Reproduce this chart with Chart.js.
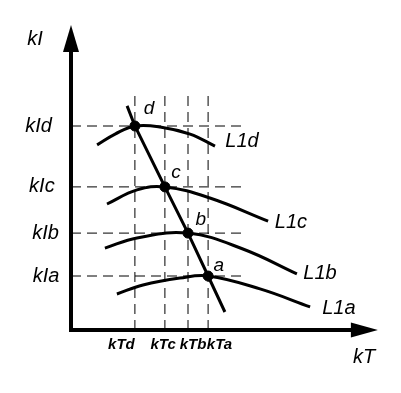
<!DOCTYPE html>
<html>
<head>
<meta charset="utf-8">
<script src="https://cdn.jsdelivr.net/npm/chart.js@4.4.1/dist/chart.umd.min.js"></script>
<style>
  html, body { margin: 0; padding: 0; background: #fff; }
</style>
</head>
<body>
<canvas id="chart" width="401" height="393"></canvas>
<script>
// operating points (kT, kI)
var pointNames = ['d', 'c', 'b', 'a'];
var kT = [21.3, 31.3, 39, 45.7];
var kI = [68, 47.7, 32.3, 18];

// steep line through the points, with its two loose ends
var lineT = [18.7, 21.3, 31.3, 39, 45.7, 51.3];
var lineI = [74.7, 68, 47.7, 32.3, 18, 6];

// L1 curves
var curveNames = ['L1d', 'L1c', 'L1b', 'L1a'];
var curveT = [
  [8.7, 14.7, 21.3, 29.7, 39.7, 48],
  [12, 22, 31.3, 46.3, 65.7],
  [11.3, 22, 39, 57.3, 75.3],
  [15.3, 24, 36.3, 45.7, 63, 79.7]
];
var curveI = [
  [61.7, 65.3, 68, 67.7, 65.3, 61.3],
  [42, 46.7, 47.7, 44, 36.3],
  [27.3, 30.7, 32.3, 27, 18.7],
  [12, 15, 17.3, 18, 13.7, 7.7]
];

var tickTLabels = ['kTd', 'kTc', 'kTb', 'kTa'];
var tickILabels = ['kId', 'kIc', 'kIb', 'kIa'];

var guideTopI = 80;
var guideEndT = 57.3;

var datasets = [];

// dashed guides
for (var i = 0; i < kT.length; i++) {
  datasets.push({
    data: [{x: kT[i], y: 0}, {x: kT[i], y: guideTopI}],
    borderColor: '#000', borderWidth: 1, borderDash: [10, 6],
    pointRadius: 0, showLine: true
  });
  datasets.push({
    data: [{x: 0, y: kI[i]}, {x: guideEndT, y: kI[i]}],
    borderColor: '#000', borderWidth: 1, borderDash: [10, 6],
    pointRadius: 0, showLine: true
  });
}

// curves
for (var c = 0; c < curveT.length; c++) {
  datasets.push({
    label: curveNames[c],
    data: curveT[c].map(function (t, j) { return {x: t, y: curveI[c][j]}; }),
    borderColor: '#000', borderWidth: 3, tension: 0.4,
    pointRadius: 0, showLine: true
  });
}

// steep line
datasets.push({
  data: lineT.map(function (t, j) { return {x: t, y: lineI[j]}; }),
  borderColor: '#000', borderWidth: 3, pointRadius: 0, showLine: true
});

// dots
datasets.push({
  data: kT.map(function (t, j) { return {x: t, y: kI[j]}; }),
  backgroundColor: '#000', borderColor: '#000', pointRadius: 5, showLine: false
});

// text placed in data units
var texts = [
  {t: 'kI', x: -12, y: 96.7, size: 20},
  {t: 'kT', x: 97.7, y: -9.3, size: 20}
];
var tiX = [-10.8, -9.7, -8.5, -8.3];
var ttX = [16.8, 30.7, 40.7, 49.5];
var nameX = [57, 73.3, 83, 89.3];
var nameY = [63, 36, 19, 7.3];
var ptX = [26, 35, 43.3, 49.3];
var ptY = [73.7, 52.3, 36.7, 21.3];
for (var k = 0; k < 4; k++) {
  texts.push({t: tickILabels[k], x: tiX[k], y: kI[k], size: 20});
  texts.push({t: tickTLabels[k], x: ttX[k], y: -5, size: 15, bold: true});
  texts.push({t: curveNames[k], x: nameX[k], y: nameY[k], size: 20});
  texts.push({t: pointNames[k], x: ptX[k], y: ptY[k], size: 19});
}

var axesPlugin = {
  id: 'axes',
  afterDatasetsDraw: function (chart) {
    var ctx = chart.ctx;
    var xs = chart.scales.x, ys = chart.scales.y;
    var x0 = xs.getPixelForValue(0), y0 = ys.getPixelForValue(0);
    var xEnd = xs.getPixelForValue(102.3), yEnd = ys.getPixelForValue(101.7);
    ctx.save();
    ctx.strokeStyle = '#000';
    ctx.fillStyle = '#000';
    ctx.lineWidth = 4;
    ctx.beginPath();
    ctx.moveTo(x0, yEnd + 20);
    ctx.lineTo(x0, y0);
    ctx.lineTo(xEnd - 20, y0);
    ctx.stroke();
    // arrows
    ctx.beginPath();
    ctx.moveTo(x0, yEnd);
    ctx.lineTo(x0 - 8, yEnd + 27);
    ctx.lineTo(x0 + 8, yEnd + 27);
    ctx.closePath();
    ctx.fill();
    ctx.beginPath();
    ctx.moveTo(xEnd, y0);
    ctx.lineTo(xEnd - 27, y0 - 7.5);
    ctx.lineTo(xEnd - 27, y0 + 7.5);
    ctx.closePath();
    ctx.fill();
    // labels
    ctx.textAlign = 'center';
    ctx.textBaseline = 'middle';
    texts.forEach(function (o) {
      ctx.font = 'italic ' + (o.bold ? 'bold ' : '') + o.size + 'px "Liberation Sans", Arial, sans-serif';
      ctx.fillText(o.t, xs.getPixelForValue(o.x), ys.getPixelForValue(o.y));
    });
    ctx.restore();
  }
};

new Chart(document.getElementById('chart'), {
  type: 'scatter',
  data: {datasets: datasets},
  options: {
    responsive: false,
    animation: false,
    layout: {padding: {left: 71, top: 30, right: 30, bottom: 63}},
    scales: {
      x: {type: 'linear', min: 0, max: 100, display: false},
      y: {type: 'linear', min: 0, max: 100, display: false}
    },
    plugins: {legend: {display: false}, tooltip: {enabled: false}}
  },
  plugins: [axesPlugin]
});
</script>
</body>
</html>
